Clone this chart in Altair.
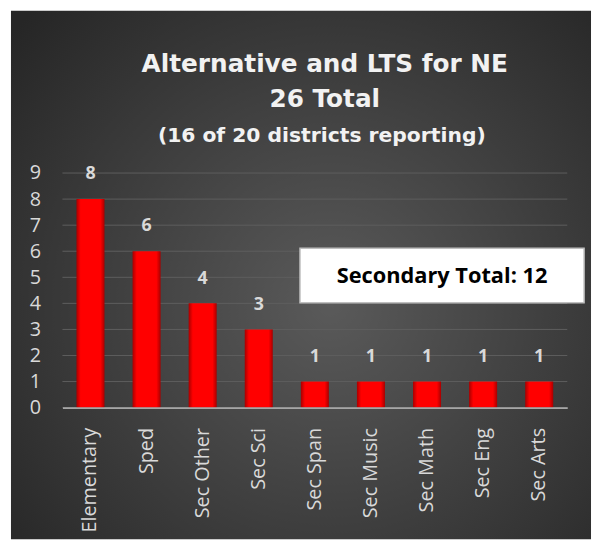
import altair as alt
import pandas as pd

categories = ["Elementary", "Sped", "Sec Other", "Sec Sci", "Sec Span",
              "Sec Music", "Sec Math", "Sec Eng", "Sec Arts"]
values = [8, 6, 4, 3, 1, 1, 1, 1, 1]
y_ticks = [0, 1, 2, 3, 4, 5, 6, 7, 8, 9]
title_line1 = "Alternative and LTS for NE"
title_line2 = "26 Total"
subtitle_text = "(16 of 20 districts reporting)"
box_text = "Secondary Total: 12"

df = pd.DataFrame({"category": categories, "value": values})
ticks_df = pd.DataFrame({"tick": y_ticks})
one = pd.DataFrame({"k": [0]})

W, H = 510, 237
yscale = alt.Scale(domain=[0, 9], nice=False)
yaxis = alt.Axis(values=y_ticks, labelFontSize=20, labelColor="#d9d9d9",
                 labelFont="Open Sans", ticks=False, domain=False,
                 labelPadding=22, grid=False, zindex=1,
                 labelOverlap=False, labelFlush=False)

bg = alt.Chart(one).mark_rect(
    fill=alt.RadialGradient(
        gradient="radial",
        stops=[alt.GradientStop(color="#5a5a5a", offset=0),
               alt.GradientStop(color="#262626", offset=1)],
        x1=0.55, y1=0.55, x2=0.55, y2=0.55, r1=0, r2=0.72),
).encode(
    x=alt.value(-52), x2=alt.value(534),
    y=alt.value(-164), y2=alt.value(370),
)

grid = alt.Chart(ticks_df).mark_rule(color="#5e5e5e", strokeWidth=1).encode(
    y=alt.Y("tick:Q", scale=yscale, title=None, axis=yaxis),
    x=alt.value(0), x2=alt.value(W),
)

base = alt.Chart(df).encode(
    x=alt.X("category:N", sort=categories, title=None,
            scale=alt.Scale(paddingInner=0.5, paddingOuter=0.25),
            axis=alt.Axis(labelAngle=-90, labelFontSize=20, labelColor="#d9d9d9",
                          labelFont="Open Sans", ticks=False, domainColor="#a6a6a6",
                          domainWidth=2, labelPadding=20, grid=False, zindex=1,
                          labelOverlap=False)),
    y=alt.Y("value:Q", title=None, scale=yscale, axis=yaxis),
)

bars = base.mark_bar(
    fill=alt.LinearGradient(
        gradient="linear",
        stops=[alt.GradientStop(color="#a80000", offset=0),
               alt.GradientStop(color="#ff0000", offset=0.15),
               alt.GradientStop(color="#ff0000", offset=0.85),
               alt.GradientStop(color="#a80000", offset=1)],
        x1=0, x2=1, y1=0, y2=0),
)

labels = base.mark_text(
    dy=-25, fontSize=18, fontWeight="bold", color="#d9d9d9",
    font="Open Sans", baseline="middle",
).encode(text="value:Q")

box = alt.Chart(one).mark_rect(fill="white", stroke="#bfbfbf", strokeWidth=1.5).encode(
    x=alt.value(240), x2=alt.value(527), y=alt.value(76), y2=alt.value(131),
)
box_label = alt.Chart(one).mark_text(
    text=box_text, fontSize=22, fontWeight="bold", color="black",
    font="Open Sans", baseline="middle", align="center",
).encode(x=alt.value(383.5), y=alt.value(104))

title_style = dict(fontWeight="bold", color="#f2f2f2", font="DejaVu Sans",
                   baseline="middle", align="center")
t1 = alt.Chart(one).mark_text(text=title_line1, fontSize=25, **title_style).encode(
    x=alt.value(265), y=alt.value(-110))
t2 = alt.Chart(one).mark_text(text=title_line2, fontSize=25, **title_style).encode(
    x=alt.value(265), y=alt.value(-75))
t3 = alt.Chart(one).mark_text(text=subtitle_text, fontSize=20.5, **title_style).encode(
    x=alt.value(262), y=alt.value(-37))

chart = alt.layer(bg, grid, bars, labels, box, box_label, t1, t2, t3).properties(
    width=W, height=H,
    autosize=alt.AutoSizeParams(type="none"),
    padding={"left": 55, "top": 164, "right": 25, "bottom": 131},
).configure(background="white").configure_view(stroke=None)

chart.save("out.html", embed_options={"renderer": "svg", "actions": False})
